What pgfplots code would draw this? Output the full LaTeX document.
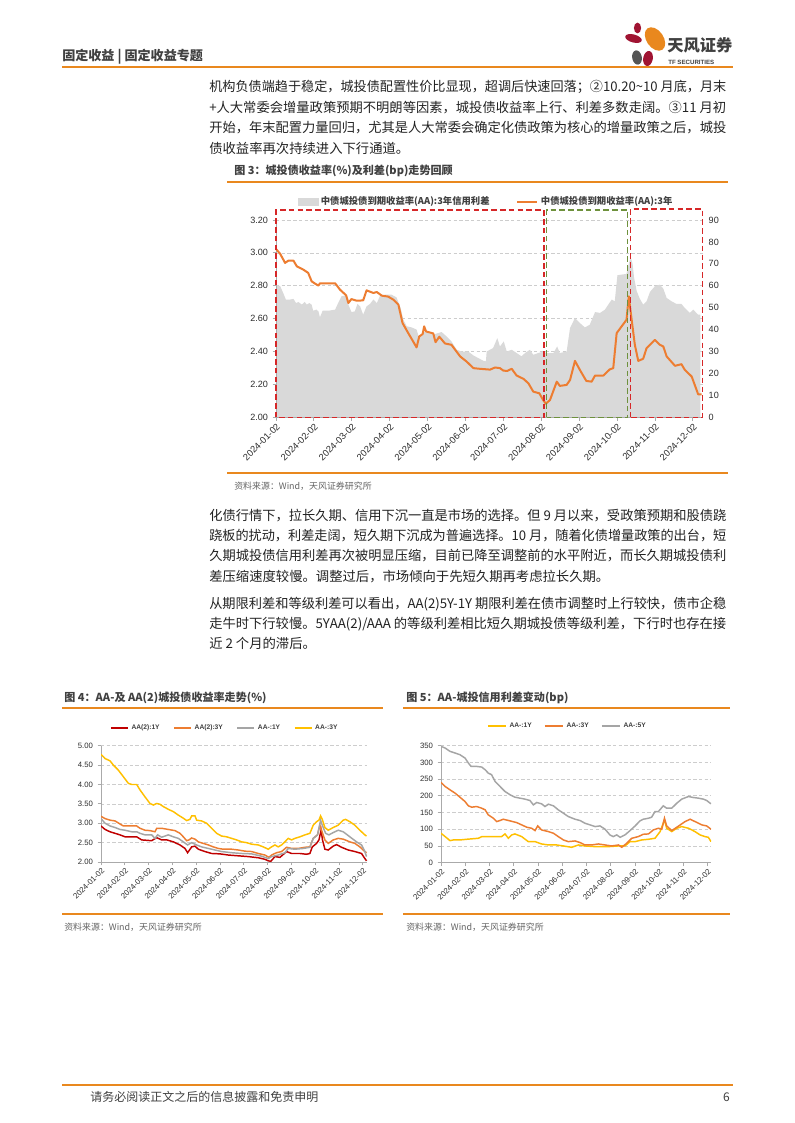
\documentclass[border=0pt]{standalone}
\usepackage{pgfplots}
\pgfplotsset{compat=1.18}
\usepackage{graphicx}
\usepackage{fontspec}
\setmainfont{Noto Sans CJK SC}
\newfontfamily\arialf{Liberation Sans}
\definecolor{tforange}{RGB}{233,136,30}
\definecolor{bodytext}{RGB}{35,35,35}
\definecolor{headgray}{RGB}{64,64,64}
\definecolor{srcgray}{RGB}{100,100,100}
\definecolor{corange}{RGB}{237,125,49}
\definecolor{areagray}{RGB}{217,217,217}
\definecolor{dashred}{RGB}{214,39,40}
\definecolor{dashgreen}{RGB}{110,145,60}
\definecolor{gridgray}{RGB}{205,205,205}
\definecolor{axisgray}{RGB}{170,170,170}
\definecolor{ticktext}{RGB}{45,45,45}
\definecolor{cred}{RGB}{192,0,0}
\definecolor{cgray}{RGB}{165,165,165}
\definecolor{cyellow}{RGB}{255,192,0}
\definecolor{logored}{RGB}{160,20,50}
\definecolor{logogray}{RGB}{85,85,85}
\newcommand{\bodyfont}{\fontsize{10}{12}\selectfont\color{bodytext}}
\newcommand{\jline}[3]{\node[anchor=base west,inner sep=0pt] at (#1,#2) {\resizebox{387.75pt}{\height}{\bodyfont #3}};}
\newcommand{\pline}[3]{\node[anchor=base west,inner sep=0pt] at (#1,#2) {\bodyfont #3};}
\pgfplotsset{
  datesx/.style={xtick={0,1,2,3,4,5,6,7,8,9,10,11},
    xticklabels={2024-01-02,2024-02-02,2024-03-02,2024-04-02,2024-05-02,2024-06-02,2024-07-02,2024-08-02,2024-09-02,2024-10-02,2024-11-02,2024-12-02}},
  tfbase/.style={anchor=south west, scale only axis,
    axis x line*=bottom, axis y line*=left,
    axis line style={draw=axisgray, line width=0.6pt},
    tick style={draw=axisgray, line width=0.6pt},
    tick align=outside, major tick length=2.5pt,
    ymajorgrids, grid style={dash pattern=on 2.5pt off 1.8pt, draw=gridgray, line width=0.5pt},
    xticklabel style={rotate=45, anchor=north east, inner sep=1pt, text=ticktext},
    yticklabel style={text=ticktext},
    legend cell align=left},
}
\begin{document}
\begin{tikzpicture}
\begin{scope}[x=0.75pt,y=-0.75pt]
\fill[white] (0,0) rectangle (794,1123);
% header
\node[anchor=base west,inner sep=0pt,text=headgray] at (62,61) {\bfseries\fontsize{9.8}{12}\selectfont 固定收益 | 固定收益专题};
% logo
\fill[logored] (637.5,28) ellipse (3.6 and 5.4);
\fill[logored,rotate around={-15:(633.5,38.5)}] (633.5,38.5) ellipse (8.5 and 4);
\fill[tforange,rotate around={35:(655,39)}] (655,39) ellipse (8.5 and 13);
\fill[logogray,rotate around={10:(637,57.5)}] (637,57.5) ellipse (4.8 and 7.2);
\fill[logored,rotate around={-10:(648,58.5)}] (648,58.5) ellipse (4.8 and 7.6);
\node[anchor=base west,inner sep=0pt,text=headgray] at (667,52) {\bfseries\fontsize{12.2}{14}\selectfont 天风证券};
\node[anchor=base west,inner sep=0pt,text=headgray] at (668,64.7) {\arialf\bfseries\fontsize{4.6}{5}\selectfont TF SECURITIES};
\draw[tforange,line width=1.6pt] (62,67) -- (733,67);
% paragraph 1
\jline{209}{92}{机构负债端趋于稳定，城投债配置性价比显现，超调后快速回落；②10.20\textasciitilde 10 月底，月末}
\jline{209}{112.4}{+人大常委会增量政策预期不明朗等因素，城投债收益率上行、利差多数走阔。③11 月初}
\jline{209}{132.8}{开始，年末配置力量回归，尤其是人大常委会确定化债政策为核心的增量政策之后，城投}
\pline{209}{153.2}{债收益率再次持续进入下行通道。}
% figure 3 title
\node[anchor=base west,inner sep=0pt,text=headgray] at (234,175) {\bfseries\fontsize{8.3}{10}\selectfont 图 3：城投债收益率(\%)及利差(bp)走势回顾};
\draw[tforange,line width=0.8pt] (227,182) -- (728,182);
\draw[tforange,line width=0.8pt] (227,473) -- (728,473);
\node[anchor=base west,inner sep=0pt,text=srcgray] at (234,489.5) {\fontsize{6.7}{8}\selectfont 资料来源：Wind，天风证券研究所};
% paragraph 2
\jline{209}{520}{化债行情下，拉长久期、信用下沉一直是市场的选择。但 9 月以来，受政策预期和股债跷}
\jline{209}{540.4}{跷板的扰动，利差走阔，短久期下沉成为普遍选择。10 月，随着化债增量政策的出台，短}
\jline{209}{560.8}{久期城投债信用利差再次被明显压缩，目前已降至调整前的水平附近，而长久期城投债利}
\pline{209}{581.2}{差压缩速度较慢。调整过后，市场倾向于先短久期再考虑拉长久期。}
% paragraph 3
\jline{209}{608}{从期限利差和等级利差可以看出，AA(2)5Y-1Y 期限利差在债市调整时上行较快，债市企稳}
\jline{209}{628.4}{走牛时下行较慢。5YAA(2)/AAA 的等级利差相比短久期城投债等级利差，下行时也存在接}
\pline{209}{648.8}{近 2 个月的滞后。}
% figure 4 / 5 titles
\node[anchor=base west,inner sep=0pt,text=headgray] at (64,701.7) {\bfseries\fontsize{8.3}{10}\selectfont 图 4：AA-及 AA(2)城投债收益率走势(\%)};
\draw[tforange,line width=0.8pt] (62,708) -- (383,708);
\draw[tforange,line width=0.8pt] (62,914) -- (383,914);
\node[anchor=base west,inner sep=0pt,text=srcgray] at (64,930.5) {\fontsize{6.7}{8}\selectfont 资料来源：Wind，天风证券研究所};
\node[anchor=base west,inner sep=0pt,text=headgray] at (406,701.7) {\bfseries\fontsize{8.3}{10}\selectfont 图 5：AA-城投信用利差变动(bp)};
\draw[tforange,line width=0.8pt] (403,708) -- (730,708);
\draw[tforange,line width=0.8pt] (403,914) -- (730,914);
\node[anchor=base west,inner sep=0pt,text=srcgray] at (406,930.5) {\fontsize{6.7}{8}\selectfont 资料来源：Wind，天风证券研究所};
% footer
\draw[tforange,line width=1.6pt] (62,1085) -- (733,1085);
\node[anchor=base west,inner sep=0pt,text=headgray] at (90,1101.5) {\fontsize{9}{11}\selectfont 请务必阅读正文之后的信息披露和免责申明};
\node[anchor=base east,inner sep=0pt,text=headgray] at (730,1101.5) {\fontsize{9}{11}\selectfont 6};
\end{scope}

% ================= Figure 3 =================
% A: grid only
\begin{axis}[at={(207pt,-312.98pt)}, anchor=south west, scale only axis,
  width=320pt, height=148pt, xmin=0, xmax=11.26, ymin=2, ymax=3.2,
  ytick={2.2,2.4,2.6,2.8,3.0,3.2}, yticklabels={}, xtick=\empty,
  ymajorgrids, grid style={dash pattern=on 2.5pt off 1.8pt, draw=gridgray, line width=0.5pt},
  axis line style={draw=none}, tick style={draw=none}]
\end{axis}
% B: right axis, spread area
\begin{axis}[at={(207pt,-312.98pt)}, anchor=south west, scale only axis,
  width=320pt, height=148pt, xmin=0, xmax=11.26, ymin=0, ymax=90,
  axis x line=none, axis y line*=right,
  y axis line style={draw=none}, ytick style={draw=none},
  ytick={0,10,20,30,40,50,60,70,80,90},
  yticklabels={0,10,20,30,40,50,60,70,80,90},
  yticklabel style={font=\arialf\fontsize{6.8}{8}\selectfont, text=ticktext, anchor=west, xshift=1pt}]
\addplot[fill=areagray, draw=none] coordinates {
(0,0) (0,60.5) (0.11,59.8) (0.19,56.7) (0.26,53.7) (0.37,53.7) (0.46,54) (0.53,52.1) (0.59,52.6) (0.68,51.4) (0.76,52.6) (0.81,51.4) (0.88,52.1) (0.94,51.4) (0.98,48.6) (1.07,49.1) (1.12,48.3) (1.16,45.6) (1.23,48.6) (1.38,48.6) (1.56,49.1) (1.64,52.1) (1.73,55.2) (1.85,55.6) (1.91,51.4) (1.99,48) (2.08,48.3) (2.15,51.7) (2.22,50.6) (2.30,46.8) (2.39,50.6) (2.48,51.7) (2.57,53.7) (2.66,52.1) (2.74,55.2) (2.88,55.9) (3.05,55.9) (3.18,54.7) (3.29,49.8) (3.36,44.5) (3.45,41.5) (3.58,41) (3.71,40) (3.78,36) (3.89,39.2) (4.02,38.4) (4.15,37.7) (4.28,38.4) (4.37,38.9) (4.50,36.9) (4.63,34.6) (4.77,30.8) (4.90,30) (5.07,30) (5.21,28.2) (5.34,27) (5.47,25.8) (5.54,25.5) (5.56,30) (5.73,31.6) (5.84,36.1) (5.91,32.3) (6.01,34.6) (6.09,30) (6.22,30.8) (6.35,29.3) (6.48,27.8) (6.57,29.3) (6.70,30.8) (6.79,28.5) (6.92,29.3) (7.05,30) (7.14,29.3) (7.32,29.3) (7.42,32.3) (7.49,29.3) (7.67,30) (7.76,40.7) (7.89,45.3) (8.02,43) (8.15,41) (8.28,42.2) (8.42,48) (8.55,47.6) (8.68,49.1) (8.86,53.7) (8.94,52.9) (9.01,64.8) (9.25,65.4) (9.31,70) (9.36,73) (9.41,70) (9.45,63.6) (9.52,57.5) (9.60,54.1) (9.69,51.4) (9.78,52.9) (9.87,57.2) (10.0,59.8) (10.13,60.5) (10.22,58.7) (10.31,54.4) (10.44,52.9) (10.57,51.7) (10.70,51.7) (10.79,49.8) (10.92,47.6) (11.01,49.1) (11.14,46.8) (11.20,46.8) (11.20,0)} -- cycle;
\end{axis}
% C: left axis, yield line, boxes, legend
\begin{axis}[tfbase, datesx, at={(207pt,-312.98pt)},
  width=320pt, height=148pt, xmin=0, xmax=11.26, ymin=2, ymax=3.2,
  ymajorgrids=false,
  ytick={2,2.2,2.4,2.6,2.8,3.0,3.2},
  yticklabels={2.00,2.20,2.40,2.60,2.80,3.00,3.20},
  xticklabel style={font=\arialf\fontsize{7}{8}\selectfont},
  yticklabel style={font=\arialf\fontsize{6.8}{8}\selectfont},
  clip=false,
  legend columns=2,
  legend style={at={(0.493,1.0926)}, anchor=center, draw=none, fill=none, inner sep=0pt,
    font=\bfseries\fontsize{7}{8}\selectfont, text=headgray,
    /tikz/every even column/.append style={column sep=18pt}},
  legend image code/.code={\draw[#1] (0pt,0pt) -- (15pt,0pt);}]
\addlegendimage{legend image code/.code={\fill[areagray] (0pt,-2.3pt) rectangle (15pt,2.3pt);}}
\addlegendentry{中债城投债到期收益率(AA):3年信用利差}
\addplot[corange, line width=1.5pt, line join=round] coordinates {
(0,3.024) (0.11,2.994) (0.24,2.939) (0.33,2.953) (0.46,2.953) (0.55,2.918) (0.72,2.898) (0.85,2.878) (0.94,2.827) (1.03,2.813) (1.12,2.801) (1.16,2.815) (1.56,2.815) (1.69,2.776) (1.85,2.742) (1.91,2.695) (1.99,2.719) (2.13,2.709) (2.30,2.711) (2.39,2.772) (2.57,2.756) (2.66,2.762) (2.79,2.740) (2.96,2.734) (3.10,2.715) (3.23,2.685) (3.34,2.573) (3.49,2.512) (3.62,2.461) (3.71,2.425) (3.78,2.492) (3.87,2.506) (3.91,2.553) (3.96,2.522) (4.15,2.510) (4.21,2.457) (4.31,2.490) (4.46,2.449) (4.63,2.441) (4.86,2.370) (5.03,2.339) (5.21,2.299) (5.38,2.295) (5.65,2.290) (5.78,2.303) (5.91,2.299) (6.0,2.284) (6.10,2.282) (6.22,2.295) (6.35,2.254) (6.53,2.234) (6.66,2.207) (6.79,2.156) (6.95,2.146) (7.05,2.105) (7.12,2.083) (7.23,2.105) (7.41,2.217) (7.49,2.191) (7.67,2.197) (7.76,2.227) (7.89,2.343) (8.02,2.288) (8.19,2.221) (8.33,2.217) (8.42,2.254) (8.64,2.254) (8.81,2.292) (8.90,2.299) (8.99,2.512) (9.25,2.593) (9.31,2.736) (9.38,2.604) (9.47,2.441) (9.56,2.343) (9.69,2.356) (9.78,2.421) (10.0,2.471) (10.13,2.441) (10.22,2.431) (10.31,2.370) (10.53,2.313) (10.70,2.323) (10.79,2.288) (10.97,2.248) (11.10,2.166) (11.14,2.140) (11.23,2.140)};
\addlegendentry{中债城投债到期收益率(AA):3年}
\draw[dashred, line width=1.2pt, dash pattern=on 4.2pt off 2.4pt] (axis cs:0,2) rectangle (axis cs:7.07,3.26);
\draw[dashgreen, line width=1.2pt, dash pattern=on 4.2pt off 2.4pt] (axis cs:7.14,2) rectangle (axis cs:9.28,3.26);
\draw[dashred, line width=1.2pt, dash pattern=on 4.2pt off 2.4pt] (axis cs:9.36,2) rectangle (axis cs:11.26,3.266);
\end{axis}

% ================= Figure 4 =================
\begin{axis}[tfbase, datesx, at={(75.75pt,-646.5pt)},
  width=199.5pt, height=87.2pt, xmin=0, xmax=11.18, ymin=2, ymax=5,
  ytick={2,2.5,3,3.5,4,4.5,5},
  yticklabels={2.00,2.50,3.00,3.50,4.00,4.50,5.00},
  xticklabel style={font=\arialf\fontsize{5.9}{7}\selectfont},
  yticklabel style={font=\arialf\fontsize{5.8}{7}\selectfont},
  legend columns=4,
  legend style={at={(0.466,1.155)}, anchor=center, draw=none, fill=none, inner sep=0pt,
    font=\arialf\bfseries\fontsize{5}{6}\selectfont, text=headgray,
    /tikz/every even column/.append style={column sep=8pt}},
  legend image code/.code={\draw[#1, line width=1.6pt] (0pt,0pt) -- (12.7pt,0pt);}]
\addplot[cred, line width=1.1pt] coordinates {
(0,2.93) (0.17,2.84) (0.38,2.78) (0.59,2.74) (0.80,2.70) (1.01,2.65) (1.50,2.65) (1.71,2.57) (2.13,2.55) (2.34,2.63) (2.55,2.57) (2.77,2.57) (3.04,2.52) (3.32,2.44) (3.53,2.35) (3.64,2.24) (3.81,2.39) (3.95,2.41) (4.09,2.33) (4.37,2.27) (4.65,2.22) (5.00,2.21) (5.35,2.18) (5.77,2.16) (6.19,2.14) (6.61,2.11) (6.89,2.07) (7.03,2.03) (7.14,2.02) (7.31,2.14) (7.52,2.12) (7.80,2.27) (8.01,2.22) (8.36,2.22) (8.64,2.20) (8.78,2.22) (8.88,2.39) (9.06,2.48) (9.16,2.57) (9.25,2.82) (9.31,2.57) (9.41,2.33) (9.55,2.31) (9.76,2.41) (9.90,2.45) (10.11,2.38) (10.39,2.31) (10.67,2.27) (10.95,2.22) (11.09,2.09) (11.16,2.03)};
\addlegendentry{AA(2):1Y}
\addplot[corange, line width=1.1pt] coordinates {
(0,3.18) (0.17,3.12) (0.38,3.08) (0.59,3.06) (0.80,2.98) (0.94,2.93) (1.15,2.93) (1.50,2.93) (1.64,2.87) (1.85,2.82) (2.06,2.81) (2.27,2.78) (2.34,2.87) (2.55,2.87) (2.83,2.84) (3.11,2.81) (3.32,2.74) (3.46,2.65) (3.60,2.55) (3.70,2.57) (3.81,2.62) (3.95,2.59) (4.09,2.52) (4.30,2.48) (4.51,2.44) (4.72,2.39) (4.93,2.35) (5.14,2.33) (5.49,2.33) (5.77,2.31) (6.05,2.28) (6.33,2.27) (6.61,2.22) (6.89,2.18) (7.06,2.12) (7.17,2.18) (7.38,2.24) (7.59,2.27) (7.80,2.38) (8.01,2.35) (8.29,2.35) (8.57,2.38) (8.78,2.39) (8.92,2.61) (9.10,2.70) (9.20,2.95) (9.27,2.82) (9.41,2.57) (9.55,2.48) (9.76,2.57) (9.97,2.61) (10.18,2.59) (10.46,2.52) (10.67,2.48) (10.88,2.39) (11.09,2.27) (11.16,2.24)};
\addlegendentry{AA(2):3Y}
\addplot[cgray, line width=1.1pt] coordinates {
(0,3.12) (0.17,3.00) (0.38,2.93) (0.59,2.89) (0.80,2.84) (1.01,2.82) (1.29,2.78) (1.50,2.78) (1.64,2.74) (1.85,2.70) (2.13,2.70) (2.27,2.61) (2.38,2.70) (2.55,2.64) (2.83,2.70) (3.04,2.65) (3.25,2.61) (3.46,2.52) (3.64,2.44) (3.81,2.50) (4.02,2.44) (4.23,2.39) (4.51,2.35) (4.79,2.31) (5.07,2.27) (5.49,2.24) (5.91,2.22) (6.33,2.21) (6.75,2.15) (7.03,2.09) (7.17,2.14) (7.45,2.18) (7.73,2.24) (7.87,2.35) (8.15,2.33) (8.50,2.35) (8.78,2.38) (8.92,2.61) (9.10,2.70) (9.23,3.08) (9.30,2.95) (9.44,2.74) (9.58,2.70) (9.76,2.76) (9.97,2.82) (10.18,2.78) (10.46,2.65) (10.74,2.52) (10.95,2.44) (11.09,2.27) (11.16,2.14)};
\addlegendentry{AA-:1Y}
\addplot[cyellow, line width=1.1pt] coordinates {
(0,4.78) (0.17,4.67) (0.38,4.61) (0.52,4.50) (0.73,4.37) (0.94,4.20) (1.15,4.03) (1.29,4.00) (1.50,4.00) (1.64,3.86) (1.85,3.68) (2.06,3.51) (2.20,3.47) (2.34,3.51) (2.48,3.49) (2.62,3.43) (2.83,3.36) (3.04,3.30) (3.25,3.21) (3.46,3.13) (3.60,3.07) (3.74,3.10) (3.81,3.19) (3.95,3.19) (4.02,3.08) (4.23,3.06) (4.44,3.00) (4.65,2.87) (4.86,2.74) (5.07,2.67) (5.28,2.65) (5.49,2.61) (5.70,2.57) (5.91,2.52) (6.12,2.50) (6.33,2.46) (6.61,2.44) (6.82,2.39) (7.03,2.33) (7.14,2.38) (7.31,2.44) (7.45,2.39) (7.59,2.44) (7.73,2.52) (7.87,2.61) (8.01,2.57) (8.15,2.61) (8.36,2.65) (8.57,2.70) (8.78,2.74) (8.92,2.95) (9.06,3.04) (9.16,3.08) (9.23,3.19) (9.30,3.10) (9.41,2.89) (9.55,2.82) (9.76,2.89) (9.97,2.95) (10.18,3.08) (10.28,3.10) (10.46,3.04) (10.67,2.95) (10.88,2.82) (11.09,2.70) (11.16,2.67)};
\addlegendentry{AA-:3Y}
\end{axis}

% ================= Figure 5 =================
\begin{axis}[tfbase, datesx, at={(330.75pt,-647pt)},
  width=202.5pt, height=87.75pt, xmin=0, xmax=11.14, ymin=0, ymax=350,
  ytick={0,50,100,150,200,250,300,350},
  yticklabels={0,50,100,150,200,250,300,350},
  xticklabel style={font=\arialf\fontsize{5.9}{7}\selectfont},
  yticklabel style={font=\arialf\fontsize{5.8}{7}\selectfont},
  legend columns=3,
  legend style={at={(0.469,1.168)}, anchor=center, draw=none, fill=none, inner sep=0pt,
    font=\arialf\bfseries\fontsize{5}{6}\selectfont, text=headgray,
    /tikz/every even column/.append style={column sep=7pt}},
  legend image code/.code={\draw[#1, line width=1.6pt] (0pt,0pt) -- (13.5pt,0pt);}]
\addplot[cyellow, line width=1.1pt] coordinates {
(0,88) (0.17,78) (0.37,66) (0.51,68) (0.78,68) (1.06,70) (1.54,73) (1.68,78) (2.09,78) (2.50,78) (2.64,86) (2.78,73) (2.92,83) (3.05,86) (3.33,78) (3.60,63) (3.88,63) (4.15,56) (4.43,53) (4.77,53) (5.05,50) (5.39,46) (5.67,53) (5.94,50) (6.36,48) (6.91,48) (7.32,50) (7.59,50) (7.80,63) (8.01,63) (8.28,68) (8.56,70) (8.83,73) (9.04,93) (9.22,128) (9.31,103) (9.52,93) (9.73,103) (9.93,108) (10.21,103) (10.48,93) (10.69,83) (10.89,78) (11.03,76) (11.14,63)};
\addlegendentry{AA-:1Y}
\addplot[corange, line width=1.1pt] coordinates {
(0,240) (0.17,228) (0.37,218) (0.58,208) (0.78,196) (0.99,183) (1.13,170) (1.27,166) (1.47,168) (1.68,163) (1.82,158) (1.95,143) (2.16,133) (2.30,123) (2.43,126) (2.57,130) (2.85,125) (3.12,120) (3.33,113) (3.54,106) (3.74,103) (3.88,96) (3.99,110) (4.15,98) (4.43,93) (4.64,88) (4.84,78) (5.05,68) (5.25,63) (5.53,65) (5.74,60) (5.94,53) (6.22,53) (6.49,56) (6.77,53) (7.04,50) (7.32,53) (7.46,46) (7.66,58) (7.87,73) (8.14,78) (8.35,85) (8.56,86) (8.76,98) (8.97,103) (9.11,100) (9.22,133) (9.31,110) (9.52,96) (9.73,106) (9.93,116) (10.07,123) (10.28,130) (10.48,123) (10.76,113) (10.96,110) (11.14,100)};
\addlegendentry{AA-:3Y}
\addplot[cgray, line width=1.1pt] coordinates {
(0,348) (0.17,343) (0.37,333) (0.58,328) (0.78,323) (0.99,313) (1.13,298) (1.24,288) (1.47,288) (1.68,286) (1.82,278) (1.95,268) (2.09,263) (2.23,243) (2.37,233) (2.50,223) (2.64,213) (2.85,203) (3.05,196) (3.26,193) (3.47,190) (3.67,186) (3.81,173) (3.95,180) (4.15,176) (4.29,168) (4.43,175) (4.64,170) (4.84,158) (5.05,148) (5.25,138) (5.53,130) (5.74,126) (5.94,118) (6.15,113) (6.36,108) (6.56,110) (6.77,100) (6.97,83) (7.11,78) (7.25,83) (7.39,76) (7.59,83) (7.80,96) (8.01,110) (8.21,125) (8.35,130) (8.56,133) (8.69,136) (8.83,153) (8.97,153) (9.17,170) (9.31,163) (9.52,163) (9.73,178) (9.93,190) (10.21,198) (10.41,195) (10.62,193) (10.83,190) (10.96,186) (11.14,176)};
\addlegendentry{AA-:5Y}
\end{axis}

\begin{scope}[x=0.75pt,y=-0.75pt]
\pgfresetboundingbox
\path[use as bounding box] (0,0) rectangle (794,1123);
\end{scope}
\end{tikzpicture}
\end{document}
